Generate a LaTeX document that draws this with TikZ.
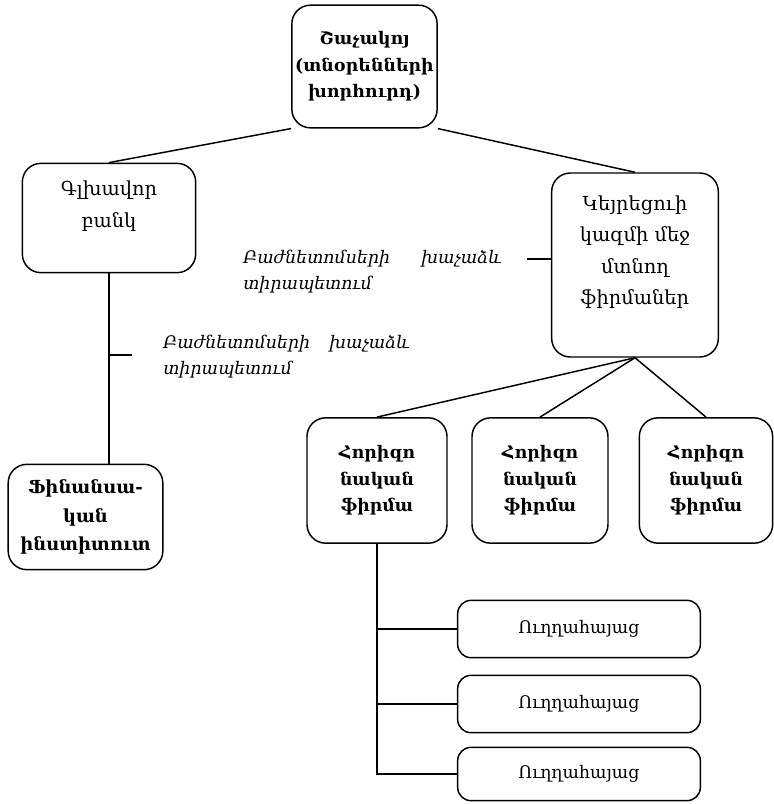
\documentclass[tikz,border=0pt]{standalone}
\usepackage{fontspec}
\setmainfont{DejaVu Serif}
\usepackage{tikz}

\begin{document}
\begin{tikzpicture}[x=0.75pt, y=-0.75pt,
  box/.style={draw, line width=1.1pt, rounded corners=14pt, align=center, inner sep=2pt},
  reg/.style={font=\fontsize{13}{23}\selectfont, align=center},
  big/.style={font=\fontsize{14.5}{23.5}\selectfont, align=center},
  bld/.style={font=\fontsize{13}{20}\selectfont\bfseries},
  note/.style={font=\fontsize{13}{19}\selectfont\itshape, align=left, anchor=north west, inner sep=0pt},
  link/.style={line width=1.1pt}]
\useasboundingbox (0,0) rectangle (774,804);
\node[box, bld, minimum width=109pt, minimum height=92pt] (council) at (364.5,66.5) {Շաչակոյ\\(տնօրենների\\խորհուրդ)};
\node[box, minimum width=130pt, minimum height=82pt] (bank) at (109,218) {};
\node[big] (banktext) at (109,206) {Գլխավոր\\բանկ};
\node[box, minimum width=125pt, minimum height=138pt] (keir) at (635,265) {};
\node[big] (keirtext) at (635,252) {Կեյրեցուի\\կազմի մեջ\\մտնող\\ֆիրմաներ};
\node[box, font=\fontsize{13.5}{21.5}\selectfont\bfseries, minimum width=116pt, minimum height=79pt] (fin) at (85.5,517) {Ֆինանսա-\\կան\\ինստիտուտ};
\node[box, bld, minimum width=105pt, minimum height=94pt] (hor1) at (377,480.5) {Հորիզո\\նական\\ֆիրմա};
\node[box, bld, minimum width=102pt, minimum height=94pt] (hor2) at (540,480.5) {Հորիզո\\նական\\ֆիրմա};
\node[box, bld, minimum width=100pt, minimum height=94pt] (hor3) at (706,480.5) {Հորիզո\\նական\\ֆիրմա};
\node[box, reg, rounded corners=10pt, minimum width=182pt, minimum height=43pt] (vert1) at (579,629) {Ուղղահայաց};
\node[box, reg, rounded corners=10pt, minimum width=182pt, minimum height=43pt] (vert2) at (579,704) {Ուղղահայաց};
\node[box, reg, rounded corners=10pt, minimum width=182pt, minimum height=40pt] (vert3) at (579,774) {Ուղղահայաց};
\node[note, text width=194pt] (cross1) at (243,250) {Բաժնետոմսերի\hfill խաչաձև\\տիրապետում};
\node[note, text width=185pt] (cross2) at (163,335) {Բաժնետոմսերի\hfill խաչաձև\\տիրապետում};
\coordinate (tick1) at (527,259);
\coordinate (tick2) at (132,355);
\draw[link] (council.south west) -- (bank.north);
\draw[link] (council.south east) -- (keir.north);
\draw[link] (bank.south) -- (bank.south |- fin.north);
\draw[link] (tick2 -| bank.south) -- (tick2);
\draw[link] (tick1) -- (tick1 -| keir.west);
\draw[link] (keir.south) -- (hor1.north);
\draw[link] (keir.south) -- (hor2.north);
\draw[link] (keir.south) -- (hor3.north);
\draw[link] (hor1.south) |- (vert3.west);
\draw[link] (hor1.south |- vert1.west) -- (vert1.west);
\draw[link] (hor1.south |- vert2.west) -- (vert2.west);
\end{tikzpicture}
\end{document}
